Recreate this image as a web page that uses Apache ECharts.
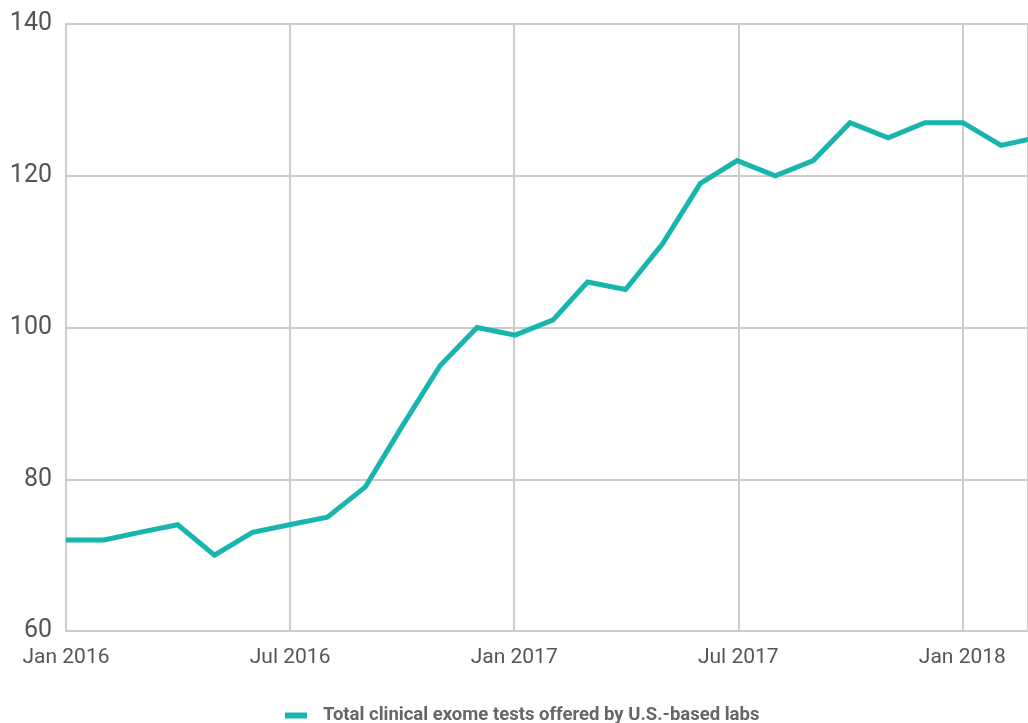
<!DOCTYPE html>
<html>
<head>
<meta charset="utf-8">
<script src="https://cdn.jsdelivr.net/npm/echarts@6/dist/echarts.min.js"></script>
<style>html,body{margin:0;padding:0;background:#fff}#c{width:1028px;height:723px}</style>
</head>
<body>
<div id="c"></div>
<script>
const months = ['2016-01-01','2016-02-01','2016-03-01','2016-04-01','2016-05-01','2016-06-01','2016-07-01','2016-08-01','2016-09-01','2016-10-01','2016-11-01','2016-12-01',
'2017-01-01','2017-02-01','2017-03-01','2017-04-01','2017-05-01','2017-06-01','2017-07-01','2017-08-01','2017-09-01','2017-10-01','2017-11-01','2017-12-01',
'2018-01-01','2018-02-01','2018-03-01'];
const tests = [72,72,73,74,70,73,74,75,79,87,95,100,99,101,106,105,111,119,122,120,122,127,125,127,127,124,125];
const yTicks = [60,80,100,120,140];
const axisStart = '2016-01-01';
const axisEnd = '2018-02-23';
const seriesName = 'Total clinical exome tests offered by U.S.-based labs';
const monthNames = ['Jan','Feb','Mar','Apr','May','Jun','Jul','Aug','Sep','Oct','Nov','Dec'];

const DAY = 86400000;
const toTs = s => { const p = s.split('-').map(Number); return Date.UTC(p[0], p[1]-1, p[2]); };
const base = toTs(axisStart);
const toDay = s => (toTs(s) - base) / DAY;
const halfYear = 365.25 / 2;
const labelFor = v => {
  const d = new Date(base + v * DAY);
  let m = d.getUTCMonth(), y = d.getUTCFullYear();
  if (d.getUTCDate() > 15) { m += 1; if (m > 11) { m = 0; y += 1; } }
  return monthNames[m] + ' ' + y;
};

const chart = echarts.init(document.getElementById('c'), null, {renderer:'canvas'});
chart.setOption({
  animation: false,
  textStyle: {fontFamily: 'Roboto'},
  grid: {left: 66, right: 0, top: 24, bottom: 92, containLabel: false},
  legend: {
    top: 701, left: 280,
    icon: 'rect', itemWidth: 22, itemHeight: 6,
    textStyle: {fontSize: 18.5, fontWeight: 'bold', color: '#666', fontFamily: 'Roboto', padding: [0,0,0,11]},
    data: [seriesName]
  },
  xAxis: {
    type: 'value',
    min: 0,
    max: toDay(axisEnd),
    interval: halfYear,
    axisLine: {show: true, lineStyle: {color: '#ccc', width: 2}},
    axisTick: {show: false},
    splitLine: {show: true, lineStyle: {color: '#ccc', width: 2}},
    axisLabel: {
      fontSize: 21, color: '#555', margin: 16, hideOverlap: false,
      showMinLabel: true, showMaxLabel: false,
      formatter: labelFor
    }
  },
  yAxis: {
    type: 'value', min: yTicks[0], max: yTicks[yTicks.length-1], interval: 20,
    axisLine: {show: true, lineStyle: {color: '#ccc', width: 2}},
    axisTick: {show: false},
    splitLine: {lineStyle: {color: '#ccc', width: 2}},
    axisLabel: {fontSize: 25, color: '#555', margin: 14}
  },
  series: [{
    name: seriesName, type: 'line', symbol: 'none',
    lineStyle: {width: 5, color: '#18b4ae', join: 'miter'},
    itemStyle: {color: '#18b4ae'},
    data: months.map((m, i) => [toDay(m), tests[i]])
  }]
});
</script>
</body>
</html>
